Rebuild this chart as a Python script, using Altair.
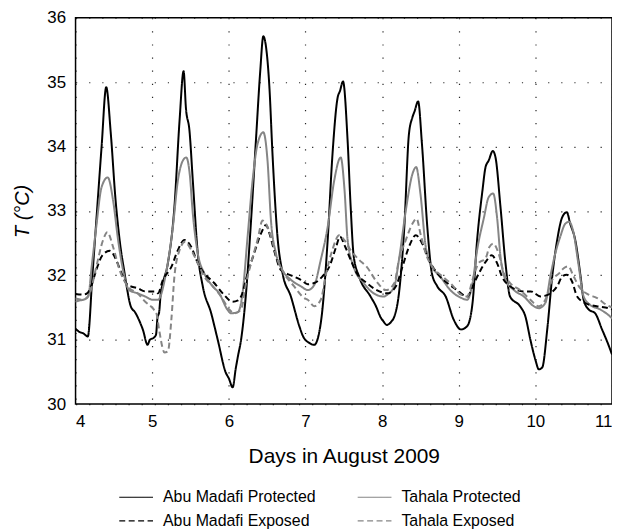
import altair as alt
import pandas as pd

series_names = ["Abu Madafi Protected", "Tahala Protected", "Abu Madafi Exposed", "Tahala Exposed"]

amp_day = [4.00, 4.05, 4.10, 4.16, 4.22, 4.28, 4.34, 4.40, 4.46, 4.52, 4.58, 4.64, 4.66, 4.72, 4.78, 4.83,
           4.88, 4.94, 4.97, 5.02, 5.05, 5.07, 5.09, 5.11, 5.14, 5.205, 5.29, 5.357, 5.41, 5.44, 5.487, 5.53,
           5.595, 5.66, 5.77, 5.855, 5.96, 6.00, 6.05, 6.09, 6.12, 6.16, 6.225, 6.29, 6.356, 6.41, 6.45, 6.485,
           6.53, 6.57, 6.635, 6.70, 6.81, 6.92, 6.97, 7.05, 7.115, 7.20, 7.29, 7.35, 7.42, 7.45, 7.49, 7.55,
           7.59, 7.63, 7.70, 7.85, 7.92, 7.98, 8.02, 8.06, 8.12, 8.16, 8.22, 8.29, 8.35, 8.395, 8.425, 8.47,
           8.52, 8.59, 8.65, 8.72, 8.83, 8.935, 9.03, 9.11, 9.18, 9.24, 9.31, 9.35, 9.39, 9.445, 9.48, 9.545,
           9.61, 9.67, 9.80, 9.87, 9.935, 10.0, 10.045, 10.09, 10.155, 10.22, 10.285, 10.35, 10.41, 10.455,
           10.52, 10.585, 10.63, 10.695, 10.78, 10.87, 10.96, 11.0]
amp_temp = [31.17, 31.12, 31.10, 31.05, 32.0, 33.0, 34.0, 34.92, 34.2, 33.2, 32.5, 32.03, 31.88, 31.52, 31.42, 31.3,
            31.15, 30.92, 31.0, 31.03, 31.08, 31.35, 31.42, 31.7, 31.88, 32.19, 33.06, 34.40, 35.17, 34.6, 34.24, 33.47,
            32.34, 31.83, 31.41, 31.0, 30.49, 30.40, 30.26, 30.55, 30.75, 31.0, 31.73, 32.85, 34.14, 35.17, 35.71, 35.55,
            34.91, 33.88, 32.60, 32.04, 31.67, 31.21, 31.05, 30.95, 30.92, 31.26, 32.55, 33.83, 34.76, 34.86, 35.01, 34.09,
            33.06, 32.29, 31.98, 31.67, 31.52, 31.35, 31.28, 31.23, 31.28, 31.36, 31.72, 32.75, 34.19, 34.45, 34.55, 34.70,
            34.04, 32.75, 32.03, 31.83, 31.67, 31.31, 31.16, 31.21, 31.57, 32.55, 33.32, 33.68, 33.78, 33.93, 33.83, 33.06,
            32.19, 31.67, 31.52, 31.36, 31.0, 30.69, 30.54, 30.57, 31.16, 31.98, 32.55, 32.90, 32.98, 32.80,
            32.55, 32.03, 31.62, 31.47, 31.41, 31.16, 30.90, 30.77]

tp_day = [4.00, 4.05, 4.10, 4.165, 4.21, 4.27, 4.34, 4.42, 4.49, 4.555, 4.62, 4.70, 4.81, 4.91, 5.01, 5.075,
          5.18, 5.27, 5.335, 5.40, 5.445, 5.49, 5.53, 5.595, 5.68, 5.79, 5.875, 5.98, 6.03, 6.12, 6.18, 6.245,
          6.31, 6.375, 6.45, 6.505, 6.55, 6.615, 6.70, 6.81, 6.94, 7.03, 7.115, 7.20, 7.29, 7.375, 7.46, 7.51,
          7.55, 7.63, 7.76, 7.89, 8.02, 8.07, 8.16, 8.22, 8.31, 8.395, 8.445, 8.50, 8.57, 8.655, 8.76, 8.89,
          9.03, 9.11, 9.18, 9.24, 9.33, 9.39, 9.45, 9.50, 9.545, 9.61, 9.72, 9.85, 9.98, 10.045, 10.13, 10.195,
          10.26, 10.325, 10.39, 10.44, 10.50, 10.56, 10.63, 10.715, 10.845, 10.975, 11.0]
tp_temp = [31.59, 31.61, 31.62, 31.67, 32.13, 32.75, 33.37, 33.52, 33.16, 32.55, 32.08, 31.77, 31.72, 31.67, 31.62, 31.62,
           32.03, 32.75, 33.47, 33.78, 33.83, 33.57, 32.96, 32.34, 32.03, 31.83, 31.72, 31.47, 31.41, 31.43, 31.73, 32.60,
           33.47, 34.04, 34.22, 33.78, 32.85, 32.34, 32.08, 31.93, 31.83, 31.77, 31.85, 32.24, 32.75, 33.47, 33.83, 33.32,
           32.55, 32.13, 31.88, 31.72, 31.67, 31.70, 31.83, 32.24, 33.01, 33.57, 33.68, 33.27, 32.44, 32.13, 31.98, 31.77,
           31.65, 31.62, 31.88, 32.39, 32.90, 33.21, 33.27, 32.90, 32.29, 31.93, 31.77, 31.67, 31.52, 31.49, 31.57, 31.98,
           32.34, 32.60, 32.80, 32.83, 32.65, 32.19, 31.67, 31.54, 31.47, 31.36, 31.33]

ame_day = [4.00, 4.10, 4.15, 4.21, 4.27, 4.35, 4.445, 4.53, 4.60, 4.68, 4.81, 4.91, 5.04, 5.075, 5.14, 5.25,
           5.335, 5.42, 5.51, 5.595, 5.68, 5.81, 5.92, 6.05, 6.12, 6.16, 6.245, 6.33, 6.42, 6.485, 6.53, 6.59,
           6.68, 6.81, 6.94, 7.03, 7.115, 7.22, 7.31, 7.40, 7.45, 7.52, 7.59, 7.67, 7.80, 7.93, 8.07, 8.18,
           8.265, 8.35, 8.44, 8.525, 8.61, 8.72, 8.85, 8.98, 9.11, 9.20, 9.285, 9.37, 9.43, 9.50, 9.565, 9.67,
           9.85, 9.94, 10.07, 10.195, 10.285, 10.35, 10.41, 10.48, 10.545, 10.65, 10.80, 10.95, 11.0]
ame_temp = [31.71, 31.70, 31.72, 31.85, 32.08, 32.31, 32.38, 32.24, 32.03, 31.85, 31.80, 31.75, 31.75, 31.72, 31.93, 32.13,
            32.39, 32.55, 32.44, 32.19, 32.03, 31.88, 31.72, 31.59, 31.61, 31.67, 32.03, 32.34, 32.65, 32.78, 32.65, 32.39,
            32.08, 32.0, 31.93, 31.86, 31.88, 31.98, 32.13, 32.44, 32.60, 32.44, 32.24, 32.03, 31.88, 31.77, 31.72, 31.83,
            32.13, 32.44, 32.62, 32.49, 32.24, 32.03, 31.88, 31.77, 31.67, 31.88, 32.08, 32.24, 32.31, 32.19, 31.98, 31.83,
            31.75, 31.75, 31.67, 31.72, 31.83, 31.98, 32.01, 31.90, 31.67, 31.57, 31.52, 31.49, 31.47]

te_day = [4.00, 4.10, 4.185, 4.27, 4.36, 4.415, 4.49, 4.575, 4.68, 4.81, 4.91, 5.02, 5.055, 5.09, 5.13, 5.16,
          5.205, 5.25, 5.29, 5.357, 5.43, 5.51, 5.595, 5.68, 5.79, 5.90, 6.005, 6.075, 6.16, 6.225, 6.29, 6.375,
          6.44, 6.485, 6.55, 6.635, 6.72, 6.85, 6.98, 7.03, 7.115, 7.20, 7.27, 7.35, 7.44, 7.505, 7.59, 7.70,
          7.80, 7.93, 8.05, 8.16, 8.22, 8.31, 8.395, 8.45, 8.50, 8.57, 8.655, 8.76, 8.89, 9.03, 9.11, 9.18,
          9.26, 9.35, 9.40, 9.45, 9.52, 9.59, 9.67, 9.80, 9.935, 10.045, 10.13, 10.22, 10.31, 10.37, 10.43, 10.50,
          10.585, 10.695, 10.80, 10.93, 11.0]
te_temp = [31.64, 31.62, 31.72, 32.13, 32.55, 32.67, 32.44, 32.08, 31.83, 31.72, 31.59, 31.47, 31.41, 31.16, 30.90, 30.80,
           30.82, 31.31, 31.98, 32.39, 32.52, 32.39, 32.19, 31.98, 31.83, 31.67, 31.47, 31.41, 31.47, 31.88, 32.19, 32.55,
           32.85, 32.80, 32.60, 32.24, 32.03, 31.83, 31.65, 31.62, 31.52, 31.62, 32.03, 32.39, 32.62, 32.55, 32.39, 32.24,
           32.13, 31.90, 31.77, 31.88, 32.24, 32.55, 32.80, 32.88, 32.65, 32.34, 32.13, 32.01, 31.88, 31.70, 31.67, 31.93,
           32.19, 32.26, 32.44, 32.49, 32.34, 32.03, 31.88, 31.77, 31.62, 31.52, 31.62, 31.93, 32.03, 32.11, 32.14, 31.98,
           31.80, 31.70, 31.65, 31.54, 31.50]

x_ticks = [4, 5, 6, 7, 8, 9, 10, 11]
y_ticks = [30, 31, 32, 33, 34, 35, 36]

series_colors = ["#000000", "#858585", "#000000", "#858585"]
series_dashes = [[1, 0], [1, 0], [6, 3.5], [6, 3.5]]

rows = []
for name, days, temps in zip(series_names,
                             [amp_day, tp_day, ame_day, te_day],
                             [amp_temp, tp_temp, ame_temp, te_temp]):
    for d, t in zip(days, temps):
        rows.append({"series": name, "day": d, "temp": t})
df = pd.DataFrame(rows)

FONT = "Liberation Sans"

chart = alt.Chart(df).mark_line(strokeWidth=2, interpolate="monotone").encode(
    x=alt.X("day:Q",
            scale=alt.Scale(domain=[4, 11], nice=False, zero=False),
            axis=alt.Axis(values=x_ticks, title="Days in August 2009", format="d",
                          titleY=53, titleBaseline="middle", titleFontSize=21)),
    y=alt.Y("temp:Q",
            scale=alt.Scale(domain=[30, 36], nice=False, zero=False),
            axis=alt.Axis(values=y_ticks, title="T (°C)", format="d",
                          titleFontStyle="italic", titleX=-53, titleY=194.5,
                          titleBaseline="middle", titleAngle=-90)),
    color=alt.Color("series:N",
                    scale=alt.Scale(domain=series_names, range=series_colors),
                    legend=alt.Legend(title=None)),
    strokeDash=alt.StrokeDash("series:N",
                              scale=alt.Scale(domain=series_names, range=series_dashes),
                              legend=alt.Legend(title=None)),
).properties(
    width=540,
    height=389,
    autosize=alt.AutoSizeParams(type="none"),
    padding={"left": 68, "top": 8, "right": 0, "bottom": 127},
).configure_view(
    stroke="#000000",
    strokeWidth=1.5,
).configure_axis(
    domain=False,
    ticks=False,
    grid=True,
    gridColor="#000000",
    gridOpacity=0.85,
    gridWidth=1.2,
    gridDash=[1.2, 12],
    labelFont=FONT,
    labelFontSize=17,
    labelColor="#000000",
    labelPadding=10,
    titleFont=FONT,
    titleFontSize=20,
    titleFontWeight="normal",
    titleColor="#000000",
).configure_legend(
    orient="none",
    legendX=51.5,
    legendY=473,
    direction="horizontal",
    columns=2,
    columnPadding=39,
    rowPadding=6,
    padding=0,
    symbolType="M-2,0H2",
    symbolSize=289,
    symbolStrokeWidth=1.2,
    labelFont=FONT,
    labelFontSize=16,
    labelColor="#000000",
    labelOffset=17.5,
    labelLimit=400,
)

chart.save("out.html", embed_options={"renderer": "svg", "actions": False})
